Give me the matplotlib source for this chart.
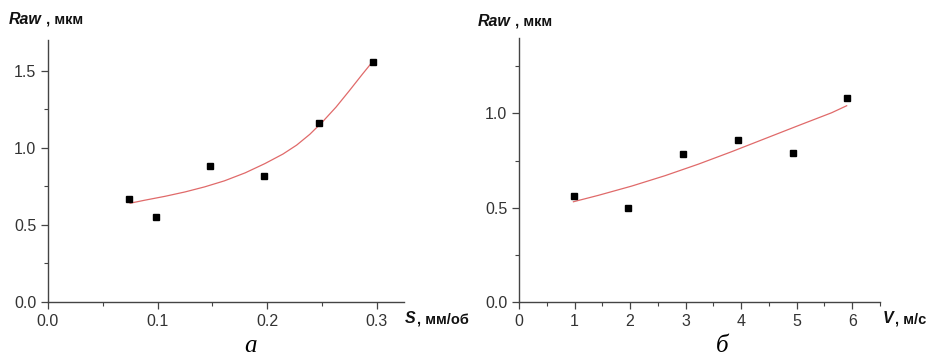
import numpy as np
import matplotlib.pyplot as plt
from matplotlib.ticker import MultipleLocator

plt.rcParams['font.family'] = ['Liberation Sans', 'DejaVu Sans']

# Данные (а): шероховатость от подачи
s_feed = [0.074, 0.099, 0.148, 0.197, 0.247, 0.297]
raw_s = [0.67, 0.55, 0.88, 0.82, 1.16, 1.555]
# аппроксимирующая кривая (а)
s_fit = [0.075, 0.088, 0.107, 0.125, 0.143, 0.161, 0.180, 0.198, 0.2145,
         0.227, 0.239, 0.251, 0.263, 0.275, 0.287, 0.295]
raw_s_fit = [0.641, 0.660, 0.686, 0.714, 0.747, 0.786, 0.838, 0.898, 0.960,
             1.018, 1.088, 1.172, 1.265, 1.370, 1.478, 1.548]

# Данные (б): шероховатость от скорости
v_speed = [0.99, 1.97, 2.95, 3.94, 4.93, 5.91]
raw_v = [0.56, 0.50, 0.785, 0.86, 0.79, 1.08]
# аппроксимирующая кривая (б)
v_fit = [0.98, 1.43, 2.03, 2.63, 3.23, 3.83, 4.43, 5.03, 5.63, 5.9]
raw_v_fit = [0.532, 0.566, 0.615, 0.670, 0.731, 0.797, 0.866, 0.935, 1.003, 1.04]

fig = plt.figure(figsize=(9.28, 3.56), dpi=100)
W, H = 928, 356

ax1 = fig.add_axes([48 / W, 1 - 302 / H, 356 / W, 262 / H])
ax2 = fig.add_axes([519 / W, 1 - 302.3 / H, 361 / W, 264.6 / H])

for ax in (ax1, ax2):
    for side in ('top', 'right'):
        ax.spines[side].set_visible(False)
    for side in ('left', 'bottom'):
        ax.spines[side].set_color('#444444')
        ax.spines[side].set_linewidth(1.0)
    ax.tick_params(which='major', direction='out', length=5, width=0.9,
                   color='#444444', labelsize=11.5, labelcolor='#333333')
    ax.tick_params(which='minor', direction='out', length=3, width=0.8,
                   color='#444444')
    ax.yaxis.set_major_locator(MultipleLocator(0.5))
    ax.yaxis.set_minor_locator(MultipleLocator(0.25))
    ax.yaxis.set_major_formatter(plt.FormatStrFormatter('%.1f'))

# (а)
ax1.plot(s_fit, raw_s_fit, color='#e06a6a', lw=0.9, zorder=2)
ax1.plot(s_feed, raw_s, 's', color='black', ms=4.5, zorder=3)
ax1.set_xlim(0, 0.325)
ax1.set_ylim(0, 1.7)
ax1.xaxis.set_major_locator(MultipleLocator(0.1))
ax1.xaxis.set_minor_locator(MultipleLocator(0.05))
ax1.xaxis.set_major_formatter(plt.FormatStrFormatter('%.1f'))

# (б)
ax2.plot(v_fit, raw_v_fit, color='#e06a6a', lw=0.9, zorder=2)
ax2.plot(v_speed, raw_v, 's', color='black', ms=4.5, zorder=3)
ax2.set_xlim(0, 6.5)
ax2.set_ylim(0, 1.4)
ax2.xaxis.set_major_locator(MultipleLocator(1))
ax2.xaxis.set_minor_locator(MultipleLocator(0.5))

# подписи осей: курсивная переменная + обычный жирный хвост
bold_it = dict(fontsize=11.5, fontweight='bold', fontstyle='italic', color='#111111')
bold = dict(fontsize=10.5, fontweight='bold', color='#111111')

renderer = fig.canvas.get_renderer()


def label(x, y, var, rest, gap=0):
    t = fig.text(x / W, 1 - y / H, var, **bold_it)
    bb = t.get_window_extent(renderer=renderer)
    fig.text((bb.x1 + gap) / W, 1 - y / H, rest, **bold)


label(9, 24, 'Raw', ' , мкм')
label(478, 26, 'Raw', ' , мкм')
label(405, 323, 'S', ', мм/об', gap=1)
label(883, 323, 'V', ', м/с', gap=1)

serif_it = dict(fontsize=18, fontstyle='italic', family='Liberation Serif',
                ha='center', va='baseline')
fig.text(251 / W, 1 - 352 / H, 'а', **serif_it)
fig.text(722 / W, 1 - 352 / H, 'б', **serif_it)

fig.savefig('out.png', dpi=100)
